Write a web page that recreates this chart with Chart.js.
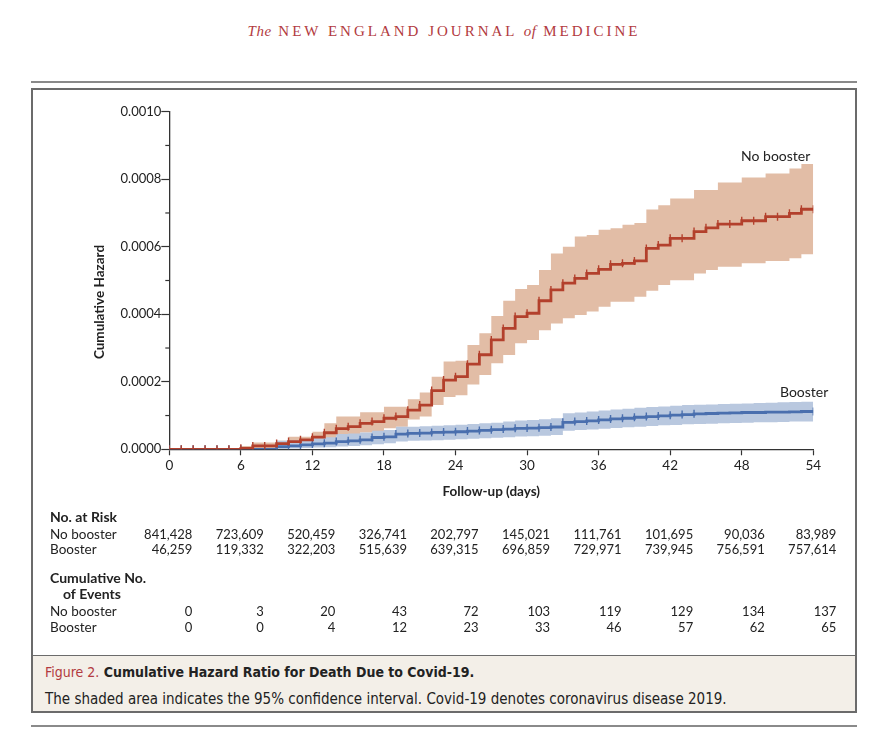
<!DOCTYPE html>
<html>
<head>
<meta charset="utf-8">
<script src="https://cdn.jsdelivr.net/npm/chart.js@4.4.1/dist/chart.umd.min.js"></script>
<style>
  body { margin:0; background:#fff; width:888px; height:738px; position:relative; overflow:hidden; font-family:Lato, "Noto Sans", sans-serif; color:#222; }
  #masthead { position:absolute; top:23px; left:0; width:888px; text-align:center; font-family:"Liberation Serif","DejaVu Serif",serif; color:#b23a40; font-size:15px; letter-spacing:3px; }
  #masthead i { letter-spacing:0.5px; }
  .rule { position:absolute; left:31px; width:826px; height:2px; background:#8a8a8a; }
  #frame { position:absolute; left:31px; top:88px; width:822px; height:621px; border:2px solid #6b6b6b; }
  #plot { position:absolute; left:0; top:0; width:820px; height:563px; }
  #caption { position:absolute; left:0; right:0; bottom:0; height:55px; background:#f3efe8; border-top:1.5px solid #6b6b6b;
             font-family:"Liberation Sans Narrow","DejaVu Sans Condensed",sans-serif; font-size:15px; color:#222; }
  #caption .l1 { position:absolute; left:12px; top:8px; font-weight:bold; font-size:14px; }
  #caption .l1 span { color:#b23a40; font-weight:normal; }
  #caption .l2 { position:absolute; left:12px; top:34px; }
</style>
</head>
<body>
<div id="masthead"><i>The</i> NEW ENGLAND JOURNAL <i>of</i> MEDICINE</div>
<div class="rule" style="top:81px"></div>
<div id="frame">
  <div id="plot"><canvas id="hazardChart"></canvas></div>
  <div id="caption">
    <div class="l1"><span>Figure 2.</span> Cumulative Hazard Ratio for Death Due to Covid-19.</div>
    <div class="l2">The shaded area indicates the 95% confidence interval. Covid-19 denotes coronavirus disease 2019.</div>
  </div>
</div>
<div class="rule" style="top:725px"></div>

<script>
// follow-up day of each step
const days = [0,1,2,3,4,5,6,7,8,9,10,11,12,13,14,15,16,17,18,19,20,21,22,23,24,25,26,27,28,29,30,31,32,33,34,35,36,37,38,39,40,41,42,43,44,45,46,47,48,49,50,51,52,53,54];

// cumulative hazard, per 10,000
const noBooster = [0,0,0,0,0,0,0.03,0.1,0.1,0.17,0.23,0.28,0.36,0.49,0.61,0.67,0.77,0.82,0.92,0.97,1.16,1.31,1.74,2.05,2.15,2.52,2.8,3.24,3.58,3.93,4.03,4.4,4.72,4.92,5.06,5.21,5.33,5.48,5.51,5.58,5.95,6.05,6.25,6.25,6.45,6.56,6.67,6.67,6.77,6.77,6.89,6.89,6.99,7.11,7.11];
const noBoosterHi = [0,0,0,0,0,0,0.1,0.2,0.2,0.25,0.37,0.37,0.52,0.77,0.97,0.97,1.1,1.1,1.26,1.26,1.48,1.68,2.15,2.6,2.62,3.09,3.44,3.95,4.4,4.75,4.87,5.31,5.8,6.0,6.3,6.35,6.5,6.55,6.65,6.7,7.1,7.23,7.43,7.43,7.68,7.68,7.9,7.9,8.05,8.05,8.17,8.17,8.32,8.45,8.45];
const noBoosterLo = [0,0,0,0,0,0,0,0.02,0.02,0.08,0.12,0.15,0.2,0.3,0.4,0.42,0.5,0.52,0.62,0.67,0.88,0.97,1.31,1.55,1.6,1.92,2.2,2.55,2.79,3.14,3.24,3.53,3.73,3.88,3.98,4.08,4.22,4.37,4.37,4.52,4.7,4.87,5.01,5.01,5.21,5.31,5.41,5.41,5.51,5.51,5.58,5.58,5.66,5.78,5.78];

const booster = [0,0,0,0,0,0,0,0,0,0.08,0.1,0.13,0.16,0.18,0.23,0.25,0.28,0.35,0.37,0.45,0.47,0.48,0.5,0.51,0.52,0.54,0.56,0.58,0.6,0.62,0.63,0.64,0.66,0.8,0.82,0.84,0.87,0.9,0.92,0.95,0.97,0.99,1.01,1.03,1.05,1.06,1.07,1.08,1.09,1.09,1.1,1.1,1.11,1.12,1.12];
const boosterHi = [0,0,0,0,0,0,0,0,0,0.25,0.27,0.3,0.33,0.36,0.45,0.47,0.5,0.55,0.57,0.67,0.67,0.68,0.7,0.71,0.73,0.75,0.77,0.79,0.82,0.85,0.87,0.89,0.92,1.07,1.09,1.12,1.15,1.18,1.2,1.23,1.25,1.27,1.29,1.31,1.32,1.33,1.34,1.35,1.36,1.37,1.38,1.39,1.4,1.41,1.41];
const boosterLo = [0,0,0,0,0,0,0,0,0,0,0.02,0.04,0.05,0.06,0.08,0.1,0.12,0.15,0.18,0.23,0.25,0.26,0.27,0.28,0.3,0.31,0.33,0.34,0.36,0.38,0.39,0.4,0.42,0.55,0.57,0.59,0.61,0.63,0.65,0.67,0.69,0.71,0.72,0.74,0.75,0.76,0.77,0.78,0.79,0.8,0.8,0.81,0.82,0.82,0.82];

// risk table
const tableDays = [0,6,12,18,24,30,36,42,48,54];
const atRiskNoBooster = [841428,723609,520459,326741,202797,145021,111761,101695,90036,83989];
const atRiskBooster = [46259,119332,322203,515639,639315,696859,729971,739945,756591,757614];
const eventsNoBooster = [0,3,20,43,72,103,119,129,134,137];
const eventsBooster = [0,0,4,12,23,33,46,57,62,65];

const RED = '#b3402c', RED_BAND = '#e2bda6';
const BLUE = '#4a6fae', BLUE_BAND = '#b9c8df';
const INK = '#222';
const FONT = 'Lato, "Noto Sans", sans-serif';

const pts = arr => days.map((d, i) => ({ x: d, y: arr[i] / 10000 }));
const fmt = n => n.toLocaleString('en-US');

const band = (hi, lo, color, order) => [
    { data: pts(hi), stepped: true, borderWidth: 0, pointRadius: 0, backgroundColor: color, fill: '+1', order: order },
    { data: pts(lo), stepped: true, borderWidth: 0, pointRadius: 0, fill: false, order: order }
];

const extras = {
    id: 'extras',
    afterDraw(chart) {
        const { ctx, scales: { x, y } } = chart;
        ctx.save();
        ctx.fillStyle = INK;

        // minor y ticks
        ctx.strokeStyle = '#333'; ctx.lineWidth = 1.2;
        for (let v = 1; v < 10; v += 2) {
            const py = y.getPixelForValue(v / 10000);
            ctx.beginPath(); ctx.moveTo(x.left - 4, py); ctx.lineTo(x.left, py); ctx.stroke();
        }

        // y title
        ctx.save();
        ctx.translate(67, 212);
        ctx.rotate(-Math.PI / 2);
        ctx.font = 'bold 13.5px ' + FONT;
        ctx.textAlign = 'center'; ctx.textBaseline = 'middle';
        ctx.fillText('Cumulative Hazard', 0, 0);
        ctx.restore();

        // series labels
        ctx.font = '14px ' + FONT;
        ctx.textAlign = 'right'; ctx.textBaseline = 'middle';
        ctx.fillText('No booster', x.getPixelForValue(54) - 3, y.getPixelForValue(0.000866));
        ctx.fillText('Booster', x.getPixelForValue(54) + 15, y.getPixelForValue(0.000167));

        // table
        ctx.textAlign = 'left';
        ctx.font = 'bold 14px ' + FONT;
        ctx.fillText('No. at Risk', 17, 427);
        ctx.fillText('Cumulative No.', 17, 488);
        ctx.fillText('of Events', 30, 504);
        ctx.font = '13.5px ' + FONT;
        [['No booster', 445], ['Booster', 460], ['No booster', 522], ['Booster', 538]].forEach(([t, py]) => ctx.fillText(t, 17, py));

        ctx.textAlign = 'right';
        ctx.font = '13px ' + FONT;
        tableDays.forEach((d, i) => {
            const px = x.getPixelForValue(d) + 23;
            ctx.fillText(fmt(atRiskNoBooster[i]), px, 445);
            ctx.fillText(fmt(atRiskBooster[i]), px, 460);
            ctx.fillText(String(eventsNoBooster[i]), px, 522);
            ctx.fillText(String(eventsBooster[i]), px, 538);
        });
        ctx.restore();
    }
};

new Chart(document.getElementById('hazardChart').getContext('2d'), {
    type: 'line',
    data: {
        datasets: [
            ...band(noBoosterHi, noBoosterLo, RED_BAND, 4),
            ...band(boosterHi, boosterLo, BLUE_BAND, 3),
            { label: 'Booster', data: pts(booster), stepped: true, borderColor: BLUE, borderWidth: 2.8, fill: false,
              pointStyle: 'line', rotation: 90, pointBorderWidth: 1.4, pointBorderColor: BLUE, order: 2,
              pointRadius: c => (c.index <= 44 || c.index === 54) ? 4 : 0 },
            { label: 'No booster', data: pts(noBooster), stepped: true, borderColor: RED, borderWidth: 2.8, fill: false,
              pointStyle: 'line', rotation: 90, pointRadius: 4, pointBorderWidth: 1.4, pointBorderColor: RED, order: 1 }
        ]
    },
    options: {
        responsive: true, maintainAspectRatio: false, animation: false,
        layout: { padding: { top: 21.7, right: 39.7, left: 0, bottom: 0 } },
        plugins: { legend: { display: false }, tooltip: { enabled: false } },
        elements: { line: { tension: 0 } },
        scales: {
            x: {
                type: 'linear', min: 0, max: 54,
                ticks: { stepSize: 6, color: INK, font: { size: 13.5, family: FONT }, padding: 2 },
                grid: { drawOnChartArea: false, tickLength: 6, color: '#333', tickWidth: 1.2 },
                border: { color: '#333', width: 1.3 },
                title: { display: true, text: 'Follow-up (days)', color: INK, font: { size: 13.5, weight: 'bold', family: FONT }, padding: { bottom: 153.6 } },
                afterFit: s => { s.height = 203.7; }
            },
            y: {
                min: 0, max: 0.001,
                ticks: { stepSize: 0.0001, color: INK, padding: 0, font: { size: 13, family: FONT },
                         callback: (v, i) => i % 2 === 0 ? v.toFixed(4) : '' },
                grid: { drawOnChartArea: false, tickLength: 8, tickWidth: 1.2,
                        tickColor: c => c.index % 2 === 0 ? '#333' : 'rgba(0,0,0,0)' },
                border: { color: '#333', width: 1.3 },
                afterFit: s => { s.width = 136.3; }
            }
        }
    },
    plugins: [extras]
});
</script>
</body>
</html>
